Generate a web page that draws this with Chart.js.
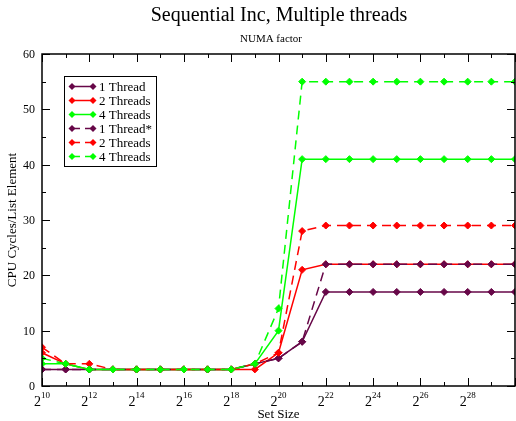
<!DOCTYPE html>
<html>
<head>
<meta charset="utf-8">
<script src="https://cdn.jsdelivr.net/npm/chart.js@4.4.1/dist/chart.umd.min.js"></script>
<style>
  body { margin: 0; background: #fff; }
</style>
</head>
<body>
<canvas id="grafico" width="516" height="421"></canvas>
<script>
// exponentes del tamaño del conjunto (2^n)
var exponentes = [10, 11, 12, 13, 14, 15, 16, 17, 18, 19, 20, 21, 22, 23, 24, 25, 26, 27, 28, 29, 30];

var un_hilo = [3, 3, 3, 3, 3, 3, 3, 3, 3, 4, 5, 8, 17, 17, 17, 17, 17, 17, 17, 17, 17];
var dos_hilos = [6, 4, 3, 3, 3, 3, 3, 3, 3, 3, 6, 21, 22, 22, 22, 22, 22, 22, 22, 22, 22];
var cuatro_hilos = [4, 4, 3, 3, 3, 3, 3, 3, 3, 4, 10, 41, 41, 41, 41, 41, 41, 41, 41, 41, 41];
var un_hilo_numa = [3, 3, 3, 3, 3, 3, 3, 3, 3, 4, 5, 8, 22, 22, 22, 22, 22, 22, 22, 22, 22];
var dos_hilos_numa = [7, 4, 4, 3, 3, 3, 3, 3, 3, 4, 6, 28, 29, 29, 29, 29, 29, 29, 29, 29, 29];
var cuatro_hilos_numa = [5, 4, 3, 3, 3, 3, 3, 3, 3, 4, 14, 55, 55, 55, 55, 55, 55, 55, 55, 55, 55];

var etiquetas = ["1 Thread", "2 Threads", "4 Threads", "1 Thread*", "2 Threads", "4 Threads"];

var ticks_x = [10, 12, 14, 16, 18, 20, 22, 24, 26, 28, 30];
var ticks_x_menores = [11, 13, 15, 17, 19, 21, 23, 25, 27, 29];
var ticks_y = [0, 10, 20, 30, 40, 50, 60];
var ticks_y_menores = [5, 15, 25, 35, 45, 55];

var serif = "'Liberation Serif', 'Times New Roman', serif";
var morado = "rgb(103,7,72)";
var rojo = "#ff0000";
var verde = "#00ff00";

function puntos(valores) {
  return exponentes.map((p, i) => ({ x: Math.pow(2, p), y: valores[i] }));
}

var series = [
  { datos: un_hilo, color: morado, dash: [] },
  { datos: dos_hilos, color: rojo, dash: [] },
  { datos: cuatro_hilos, color: verde, dash: [] },
  { datos: un_hilo_numa, color: morado, dash: [9, 6] },
  { datos: dos_hilos_numa, color: rojo, dash: [9, 6] },
  { datos: cuatro_hilos_numa, color: verde, dash: [9, 6] },
];

const datasets = series.map((s, i) => ({
  label: etiquetas[i],
  data: puntos(s.datos),
  borderColor: s.color,
  backgroundColor: s.color,
  borderWidth: 1.5,
  borderDash: s.dash,
  pointStyle: "rectRot",
  pointRadius: 3.5,
  pointBorderWidth: 1,
  order: -i,
  tension: 0,
}));

function rombo(ctx, x, y, r, color) {
  ctx.beginPath();
  ctx.moveTo(x, y - r);
  ctx.lineTo(x + r, y);
  ctx.lineTo(x, y + r);
  ctx.lineTo(x - r, y);
  ctx.closePath();
  ctx.fillStyle = color;
  ctx.fill();
}

// ejes tipo grace: marco, ticks hacia adentro, etiquetas 2^n, titulos y leyenda
const decorado = {
  id: "decorado",
  afterDraw(chart) {
    const ctx = chart.ctx;
    const a = chart.chartArea;
    const sx = chart.scales.x;
    const sy = chart.scales.y;
    ctx.save();
    ctx.strokeStyle = "#000";
    ctx.lineWidth = 1.5;
    ctx.strokeRect(a.left, a.top, a.right - a.left, a.bottom - a.top);

    ctx.lineWidth = 1;
    ctx.beginPath();
    ticks_x.forEach((p) => {
      const x = Math.round(sx.getPixelForValue(Math.pow(2, p))) + 0.5;
      ctx.moveTo(x, a.bottom); ctx.lineTo(x, a.bottom - 8);
      ctx.moveTo(x, a.top); ctx.lineTo(x, a.top + 8);
    });
    ticks_x_menores.forEach((p) => {
      const x = Math.round(sx.getPixelForValue(Math.pow(2, p))) + 0.5;
      ctx.moveTo(x, a.bottom); ctx.lineTo(x, a.bottom - 4);
      ctx.moveTo(x, a.top); ctx.lineTo(x, a.top + 4);
    });
    ticks_y.forEach((v) => {
      const y = Math.round(sy.getPixelForValue(v)) + 0.5;
      ctx.moveTo(a.left, y); ctx.lineTo(a.left + 8, y);
      ctx.moveTo(a.right, y); ctx.lineTo(a.right - 8, y);
    });
    ticks_y_menores.forEach((v) => {
      const y = Math.round(sy.getPixelForValue(v)) + 0.5;
      ctx.moveTo(a.left, y); ctx.lineTo(a.left + 4, y);
      ctx.moveTo(a.right, y); ctx.lineTo(a.right - 4, y);
    });
    ctx.stroke();

    ctx.fillStyle = "#000";
    // etiquetas eje y
    ctx.font = "12px " + serif;
    ctx.textAlign = "right";
    ctx.textBaseline = "middle";
    ticks_y.forEach((v) => {
      ctx.fillText(String(v), a.left - 7, sy.getPixelForValue(v) + 1);
    });
    // etiquetas eje x con exponente
    ticks_x.slice(0, -1).forEach((p) => {
      const x = sx.getPixelForValue(Math.pow(2, p));
      ctx.font = "14px " + serif;
      const w1 = ctx.measureText("2").width;
      ctx.font = "9px " + serif;
      const w2 = ctx.measureText(String(p)).width;
      const x0 = x - (w1 + w2) / 2;
      ctx.textAlign = "left";
      ctx.textBaseline = "alphabetic";
      ctx.font = "14px " + serif;
      ctx.fillText("2", x0, a.bottom + 20);
      ctx.font = "9px " + serif;
      ctx.fillText(String(p), x0 + w1, a.bottom + 12);
    });

    // titulos
    ctx.textAlign = "center";
    ctx.textBaseline = "alphabetic";
    ctx.font = "20px " + serif;
    ctx.fillText("Sequential Inc, Multiple threads", 279, 21);
    ctx.font = "11px " + serif;
    ctx.fillText("NUMA factor", 271, 42);
    ctx.font = "13px " + serif;
    ctx.fillText("Set Size", (a.left + a.right) / 2, 418);
    ctx.save();
    ctx.translate(16, (a.top + a.bottom) / 2);
    ctx.rotate(-Math.PI / 2);
    ctx.fillText("CPU Cycles/List Element", 0, 0);
    ctx.restore();

    // leyenda
    ctx.fillStyle = "#fff";
    ctx.fillRect(64.5, 76.5, 92, 90);
    ctx.lineWidth = 1;
    ctx.strokeStyle = "#000";
    ctx.strokeRect(64.5, 76.5, 92, 90);
    series.forEach((s, i) => {
      const y = 86.5 + i * 14;
      ctx.strokeStyle = s.color;
      ctx.lineWidth = 1.5;
      ctx.setLineDash(s.dash.length ? [8, 5] : []);
      ctx.beginPath();
      ctx.moveTo(72, y);
      ctx.lineTo(93, y);
      ctx.stroke();
      ctx.setLineDash([]);
      rombo(ctx, 72, y, 3.5, s.color);
      rombo(ctx, 93, y, 3.5, s.color);
      ctx.fillStyle = "#000";
      ctx.font = "13px " + serif;
      ctx.textAlign = "left";
      ctx.textBaseline = "middle";
      ctx.fillText(etiquetas[i], 99, y + 1);
    });
    ctx.restore();
  },
};

new Chart(document.getElementById("grafico"), {
  type: "line",
  data: { datasets },
  options: {
    responsive: false,
    animation: false,
    layout: { autoPadding: false, padding: { left: 42, top: 54, right: 1, bottom: 35 } },
    plugins: {
      legend: { display: false },
      tooltip: { enabled: false },
    },
    scales: {
      x: { type: "logarithmic", min: Math.pow(2, 10), max: Math.pow(2, 30), display: false },
      y: { type: "linear", min: 0, max: 60, display: false },
    },
  },
  plugins: [decorado],
});
</script>
</body>
</html>
